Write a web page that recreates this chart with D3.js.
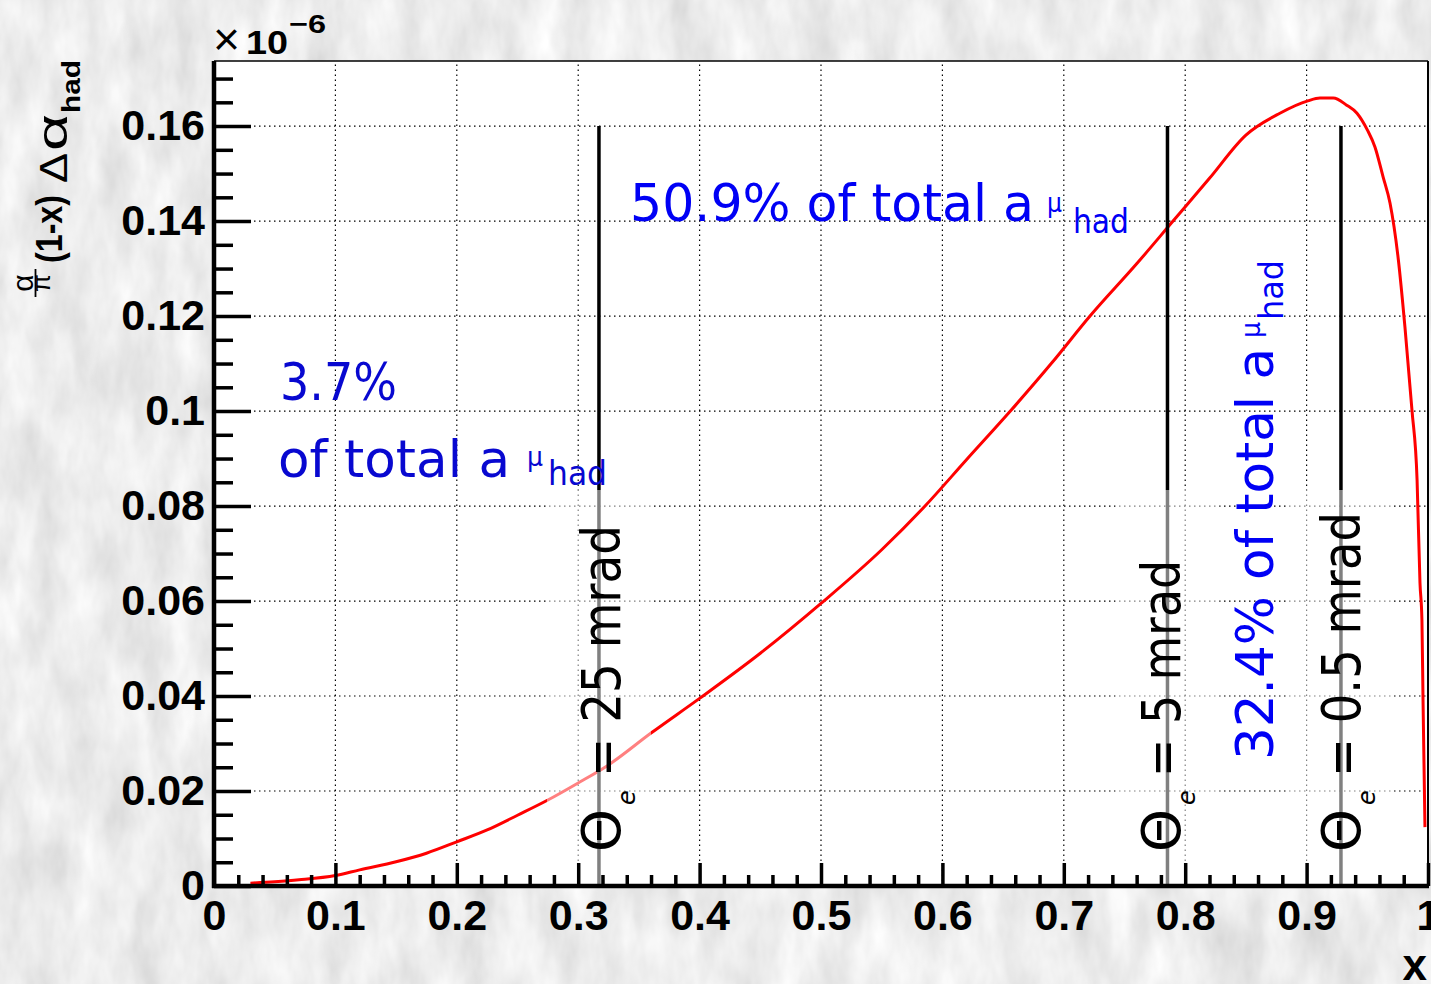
<!DOCTYPE html>
<html>
<head>
<meta charset="utf-8">
<script src="https://cdn.jsdelivr.net/npm/d3@7"></script>
<style>
  body { margin: 0; background: #d8d8d8; }
  svg { display: block; }
</style>
</head>
<body>
<svg width="1431" height="984"></svg>
<script>
// curve: x, and (alpha/pi)(1-x) delta alpha_had in units of 1e-6
const xValues = [0.03, 0.05, 0.07, 0.1, 0.12, 0.15, 0.175, 0.2, 0.225, 0.25, 0.275, 0.3, 0.325, 0.36,
    0.4, 0.45, 0.5, 0.55, 0.5857, 0.62, 0.656, 0.69, 0.7216, 0.76, 0.79, 0.82, 0.85, 0.878, 0.901,
    0.911, 0.922, 0.933, 0.9415, 0.95, 0.9563, 0.963, 0.9687, 0.9756, 0.981, 0.9868, 0.991, 0.9934,
    0.995, 0.9959, 0.9975];
const yValues = [0.0006, 0.0009, 0.0013, 0.0022, 0.0034, 0.0051, 0.0069, 0.0093, 0.0118, 0.0149, 0.0181,
    0.0217, 0.0255, 0.0322, 0.0395, 0.049, 0.0595, 0.0708, 0.08, 0.0898, 0.1, 0.1101, 0.12, 0.131,
    0.14, 0.149, 0.1581, 0.1627, 0.1653, 0.1659, 0.1659, 0.1644, 0.1627, 0.1592, 0.1556, 0.1493,
    0.1438, 0.1318, 0.1177, 0.1002, 0.0855, 0.0638, 0.056, 0.0392, 0.0124];

const xTickValues = [0, 0.1, 0.2, 0.3, 0.4, 0.5, 0.6, 0.7, 0.8, 0.9, 1];
const xTickLabels = ["0", "0.1", "0.2", "0.3", "0.4", "0.5", "0.6", "0.7", "0.8", "0.9", "1"];
const yTickValues = [0, 0.02, 0.04, 0.06, 0.08, 0.1, 0.12, 0.14, 0.16];
const yTickLabels = ["0", "0.02", "0.04", "0.06", "0.08", "0.1", "0.12", "0.14", "0.16"];

// electron angle cuts and the x where they sit
const cutX = [0.3171, 0.7854, 0.9283];
const cutLabels = ["= 25 mrad", "= 5 mrad", "= 0.5 mrad"];
const cutTop = 0.16;

// share of total a_mu^had in each region
const shares = ["3.7%", "50.9%", "32.4%"];

let svg = d3.select("svg");
let width = +svg.attr("width");
let height = +svg.attr("height");

let x = d3.scaleLinear().domain([0, 1]).range([214, 1428]);
let y = d3.scaleLinear().domain([0, 0.1737]).range([886, 61]);

const tickFont = '"Liberation Sans", Arial, sans-serif';
const comicFont = '"DejaVu Sans", "Noto Sans", sans-serif';

// marble-ish background
let defs = svg.append("defs");
let marble = defs.append("filter").attr("id", "marble")
    .attr("x", 0).attr("y", 0).attr("width", 1).attr("height", 1);
marble.append("feTurbulence")
    .attr("type", "fractalNoise")
    .attr("baseFrequency", "0.03 0.012")
    .attr("numOctaves", 4)
    .attr("seed", 7);
marble.append("feColorMatrix").attr("type", "matrix")
    .attr("values", "0.4 0 0 0 0.64  0.4 0 0 0 0.64  0.4 0 0 0 0.64  0 0 0 0 1");
svg.append("rect").attr("width", width).attr("height", height)
    .attr("fill", "#d8d8d8").attr("filter", "url(#marble)");

// plot frame
svg.append("rect")
    .attr("x", x(0)).attr("y", y.range()[1])
    .attr("width", x(1) - x(0)).attr("height", y(0) - y.range()[1])
    .attr("fill", "white");

// dotted grid
let grid = svg.append("g").attr("class", "grid")
    .attr("stroke", "black").attr("stroke-width", 1.2).attr("stroke-dasharray", "1.5,3.5");
grid.selectAll("line.gx")
    .data(xTickValues.filter(d => d > 0 && d < 1))
    .enter().append("line")
    .attr("x1", d => x(d)).attr("x2", d => x(d))
    .attr("y1", y(0)).attr("y2", y.range()[1]);
grid.selectAll("line.gy")
    .data(yTickValues.filter(d => d > 0))
    .enter().append("line")
    .attr("x1", x(0)).attr("x2", x(1))
    .attr("y1", d => y(d)).attr("y2", d => y(d));

// the curve
let points = xValues.map((v, i) => [v, yValues[i]]);
let line = d3.line()
    .x(d => x(d[0]))
    .y(d => y(d[1]))
    .curve(d3.curveMonotoneX);
svg.append("path")
    .datum(points)
    .attr("d", line)
    .attr("fill", "none")
    .attr("stroke", "#ff0000")
    .attr("stroke-width", 3);

// cut lines
svg.selectAll("line.cut")
    .data(cutX)
    .enter().append("line")
    .attr("class", "cut")
    .attr("x1", d => x(d)).attr("x2", d => x(d))
    .attr("y1", y(cutTop)).attr("y2", y(0))
    .attr("stroke", "black")
    .attr("stroke-width", 3.5);

// half transparent label boxes (they wash out what is under them)
svg.selectAll("rect.labelbox")
    .data(cutX)
    .enter().append("rect")
    .attr("class", "labelbox")
    .attr("x", d => x(d) - 52)
    .attr("width", 104)
    .attr("y", 490)
    .attr("height", y(0) - 490)
    .attr("fill", "white")
    .attr("fill-opacity", 0.5);

// axes, drawn last like ROOT does
function styleAxis(g) {
    g.select(".domain").remove();
    g.selectAll(".tick line").attr("stroke", "black").attr("stroke-width", 3.5);
    g.selectAll(".tick text")
        .attr("font-family", tickFont)
        .attr("font-weight", "bold")
        .attr("font-size", 43)
        .attr("fill", "black");
}

let xMinor = d3.range(0, 1.0001, 0.02).filter(d => Math.abs(d * 10 - Math.round(d * 10)) > 1e-6);
let yMinor = d3.range(0, 0.1737, 0.005).filter(d => Math.abs(d * 50 - Math.round(d * 50)) > 1e-6);

svg.append("g")
    .attr("transform", `translate(0,${y(0)})`)
    .call(d3.axisBottom(x).tickValues(xMinor).tickFormat("").tickSizeInner(-11).tickSizeOuter(0))
    .call(styleAxis);
svg.append("g")
    .attr("transform", `translate(0,${y(0)})`)
    .call(d3.axisBottom(x).tickValues(xTickValues)
        .tickFormat((d, i) => xTickLabels[i])
        .tickSizeInner(-23).tickSizeOuter(0).tickPadding(13))
    .call(styleAxis);

svg.append("g")
    .attr("transform", `translate(${x(0)},0)`)
    .call(d3.axisLeft(y).tickValues(yMinor).tickFormat("").tickSizeInner(-19).tickSizeOuter(0))
    .call(styleAxis);
svg.append("g")
    .attr("transform", `translate(${x(0)},0)`)
    .call(d3.axisLeft(y).tickValues(yTickValues)
        .tickFormat((d, i) => yTickLabels[i])
        .tickSizeInner(-37).tickSizeOuter(0).tickPadding(9))
    .call(styleAxis);

// frame lines: thick bottom/left, thin top/right
svg.append("line").attr("x1", x(0) - 2).attr("x2", x(1) + 1)
    .attr("y1", y(0)).attr("y2", y(0))
    .attr("stroke", "black").attr("stroke-width", 4.5);
svg.append("line").attr("x1", x(0)).attr("x2", x(0))
    .attr("y1", y(0) + 2).attr("y2", y.range()[1])
    .attr("stroke", "black").attr("stroke-width", 4.5);
svg.append("line").attr("x1", x(0)).attr("x2", x(1))
    .attr("y1", y.range()[1]).attr("y2", y.range()[1])
    .attr("stroke", "black").attr("stroke-width", 1.5);
svg.append("line").attr("x1", x(1)).attr("x2", x(1))
    .attr("y1", y.range()[1]).attr("y2", y(0))
    .attr("stroke", "black").attr("stroke-width", 2);

// axis titles
svg.append("text")
    .attr("x", x(1) - 1).attr("y", 980)
    .attr("text-anchor", "end")
    .attr("font-family", tickFont).attr("font-weight", "bold").attr("font-size", 44)
    .text("x");

let exp = svg.append("g").attr("font-family", tickFont);
exp.append("text").attr("x", 213).attr("y", 55).attr("font-size", 46)
    .attr("textLength", 27).attr("lengthAdjust", "spacingAndGlyphs").text("×");
exp.append("text").attr("x", 246).attr("y", 54).attr("font-size", 34).attr("font-weight", "bold")
    .attr("textLength", 42).attr("lengthAdjust", "spacingAndGlyphs").text("10");
exp.append("text").attr("x", 289).attr("y", 33).attr("font-size", 26).attr("font-weight", "bold")
    .attr("textLength", 37).attr("lengthAdjust", "spacingAndGlyphs").text("−6");

// y title, built by hand: fraction alpha/pi, then (1-x) delta alpha_had
let ylab = svg.append("g")
    .attr("transform", "translate(62,305) rotate(-90)")
    .attr("font-family", tickFont);
ylab.append("text").attr("x", 22).attr("y", -29).attr("text-anchor", "middle")
    .attr("font-size", 30).text("α");
ylab.append("line").attr("x1", 8).attr("x2", 36).attr("y1", -26.5).attr("y2", -26.5)
    .attr("stroke", "black").attr("stroke-width", 1.8);
ylab.append("text").attr("x", 22).attr("y", -12).attr("text-anchor", "middle")
    .attr("font-size", 26).text("π");
ylab.append("text").attr("x", 42).attr("y", 0).attr("font-size", 37).attr("font-weight", "bold")
    .attr("textLength", 68).attr("lengthAdjust", "spacingAndGlyphs").text("(1-x)");
ylab.append("text").attr("x", 122).attr("y", 5).attr("font-size", 39)
    .attr("textLength", 30).attr("lengthAdjust", "spacingAndGlyphs").text("Δ");
ylab.append("text").attr("x", 154).attr("y", 5).attr("font-size", 42)
    .attr("textLength", 37).attr("lengthAdjust", "spacingAndGlyphs").text("α");
ylab.append("text").attr("x", 192).attr("y", 18).attr("font-size", 25).attr("font-weight", "bold")
    .attr("textLength", 53).attr("lengthAdjust", "spacingAndGlyphs").text("had");

// blue share annotations
function blueText(g, str, tx, ty, size, len, color) {
    return g.append("text")
        .attr("x", tx).attr("y", ty)
        .attr("font-family", comicFont)
        .attr("font-size", size)
        .attr("fill", color)
        .attr("textLength", len)
        .attr("lengthAdjust", "spacingAndGlyphs")
        .text(str);
}

let low = svg.append("g");
blueText(low, shares[0], 280, 400, 52, 117, "#0808d0");
blueText(low, "of total a", 278, 477, 52, 232, "#0808d0");
blueText(low, "μ", 527, 466, 26, 16, "#0808d0");
blueText(low, "had", 548, 485, 34, 59, "#0808d0");

let mid = svg.append("g");
blueText(mid, shares[1] + " of total a", 630, 221, 52, 404, "#0000f5");
blueText(mid, "μ", 1047, 212, 26, 15, "#0000f5");
blueText(mid, "had", 1073, 233, 34, 56, "#0000f5");

let high = svg.append("g").attr("transform", "translate(1273,760) rotate(-90)");
blueText(high, shares[2] + " of total a", 0, 0, 52, 412, "#0000f5");
blueText(high, "μ", 422, -13, 26, 16, "#0000f5");
blueText(high, "had", 440, 10, 34, 60, "#0000f5");

// theta_e labels along the cut lines
const labelShift = [21, 13, 19];
const labelLen = [252, 217, 265];
cutX.forEach((c, i) => {
    let g = svg.append("g")
        .attr("transform", `translate(${x(c) + labelShift[i]},852) rotate(-90)`)
        .attr("font-family", comicFont)
        .attr("fill", "black");
    g.append("text").attr("x", 0).attr("y", 0).attr("font-size", 54)
        .attr("textLength", 43).attr("lengthAdjust", "spacingAndGlyphs").text("Θ");
    g.append("text").attr("x", 47).attr("y", 15).attr("font-size", 24)
        .attr("font-style", "italic").text("e");
    g.append("text").attr("x", 75).attr("y", 0).attr("font-size", 54)
        .attr("textLength", labelLen[i]).attr("lengthAdjust", "spacingAndGlyphs")
        .text(cutLabels[i]);
});
</script>
</body>
</html>
